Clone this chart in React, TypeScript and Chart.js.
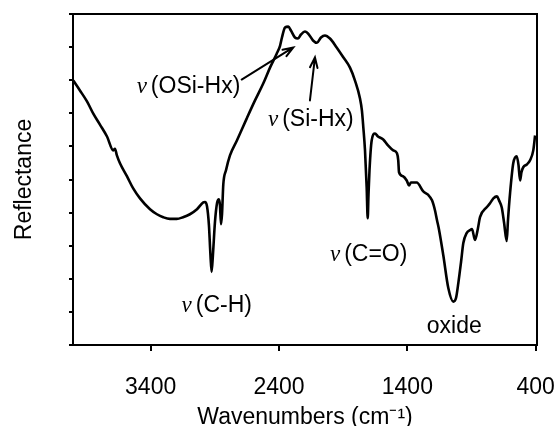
import React, { useEffect, useRef } from "react";
import { Chart, registerables } from "chart.js";

Chart.register(...registerables);

// Spectrum (wavenumber, reflectance in arbitrary units 0-10)
const wavenumbers = [
  4003, 3951, 3896, 3847, 3795, 3740, 3691, 3678, 3663, 3639, 3585, 3536, 3483, 3405, 3351, 3302,
  3250, 3197, 3148, 3094, 3039, 2990, 2977, 2961, 2946, 2934, 2925, 2915, 2899, 2883, 2868, 2860,
  2852, 2844, 2834, 2813, 2782, 2728, 2652, 2587, 2523, 2470, 2418, 2392, 2377, 2353, 2328, 2307,
  2276, 2252, 2229, 2198, 2167, 2135, 2104, 2073, 2042, 2003, 1951, 1902, 1847, 1808, 1769, 1754,
  1743, 1730, 1717, 1709, 1703, 1695, 1678, 1652, 1629, 1588, 1551, 1510, 1481, 1471, 1465, 1434,
  1405, 1387, 1372, 1327, 1276, 1239, 1208, 1185, 1169, 1154, 1120, 1081, 1042, 1021, 1003, 982,
  964, 938, 912, 896, 873, 850, 834, 782, 756, 730, 702, 686, 665, 647, 626, 616, 600, 575, 548,
  534, 522, 511, 497, 468, 444, 419, 405,
];
const reflectance = [
  7.99, 7.69, 7.36, 6.99, 6.66, 6.3, 5.88, 5.93, 5.73, 5.49, 5.1, 4.73, 4.43, 4.1, 3.95, 3.86,
  3.81, 3.81, 3.86, 3.95, 4.1, 4.31, 4.32, 4.19, 3.62, 2.71, 2.21, 2.71, 3.71, 4.28, 4.4, 4.22,
  3.65, 3.95, 4.85, 5.28, 5.73, 6.18, 6.84, 7.39, 7.9, 8.38, 8.8, 9.04, 9.29, 9.59, 9.62, 9.5,
  9.29, 9.26, 9.38, 9.47, 9.38, 9.2, 9.13, 9.29, 9.35, 9.26, 8.99, 8.71, 8.38, 7.99, 7.45, 7.08,
  6.57, 5.88, 4.76, 3.83, 4.52, 5.28, 6.18, 6.39, 6.3, 6.21, 6.03, 5.88, 5.79, 5.58, 5.22, 5.1,
  4.97, 4.82, 4.91, 4.91, 4.64, 4.54, 4.37, 4.07, 3.77, 3.5, 2.71, 1.72, 1.31, 1.42, 1.87, 2.5,
  3.08, 3.38, 3.47, 3.5, 3.17, 3.53, 3.86, 4.16, 4.28, 4.43, 4.49, 4.37, 4.16, 3.71, 3.14, 3.77,
  4.58, 5.49, 5.7, 5.43, 4.97, 5.22, 5.37, 5.46, 5.58, 5.88, 6.33,
];

const xTickValues = [3400, 2400, 1400, 400];
const yTickValues = [0, 1, 2, 3, 4, 5, 6, 7, 8, 9, 10];

// Peak annotations (text, left wavenumber, baseline value)
const labelTexts = ["(OSi-Hx)", "(Si-Hx)", "(C-H)", "(C=O)"];
const labelWn = [3509, 2486, 3159, 2003];
const labelVal = [7.6, 6.63, 1.0, 2.53];
const plainLabelTexts = ["oxide"];
const plainLabelWn = [1249];
const plainLabelVal = [0.35];

// Arrows (from -> to)
const arrowFromWn = [2691, 2159];
const arrowFromVal = [8.02, 7.39];
const arrowToWn = [2289, 2120];
const arrowToVal = [8.99, 8.69];

const SANS = '"Liberation Sans", Arial, Helvetica, sans-serif';
const SERIF = '"Liberation Serif", "Times New Roman", serif';

const framePlugin = {
  id: "frame",
  afterDatasetsDraw(chart: any) {
    const { ctx, chartArea, scales } = chart;
    const x = scales.x;
    const y = scales.y;
    ctx.save();
    ctx.strokeStyle = "#000";
    ctx.lineWidth = 2;
    ctx.strokeRect(chartArea.left, chartArea.top, chartArea.right - chartArea.left, chartArea.bottom - chartArea.top);

    ctx.fillStyle = "#000";
    ctx.textBaseline = "alphabetic";
    ctx.textAlign = "left";
    for (let i = 0; i < labelTexts.length; i++) {
      const px = x.getPixelForValue(labelWn[i]);
      const py = y.getPixelForValue(labelVal[i]);
      ctx.font = `italic 23px ${SERIF}`;
      ctx.fillText("\u03BD", px, py);
      const w = ctx.measureText("\u03BD").width;
      ctx.font = `23px ${SANS}`;
      ctx.fillText(labelTexts[i], px + w + 4, py);
    }
    for (let i = 0; i < plainLabelTexts.length; i++) {
      const px = x.getPixelForValue(plainLabelWn[i]);
      const py = y.getPixelForValue(plainLabelVal[i]);
      ctx.font = `23px ${SANS}`;
      ctx.fillText(plainLabelTexts[i], px, py);
    }
    ctx.lineWidth = 2;
    ctx.lineCap = "round";
    for (let i = 0; i < arrowFromWn.length; i++) {
      const x1 = x.getPixelForValue(arrowFromWn[i]);
      const y1 = y.getPixelForValue(arrowFromVal[i]);
      const x2 = x.getPixelForValue(arrowToWn[i]);
      const y2 = y.getPixelForValue(arrowToVal[i]);
      const ang = Math.atan2(y2 - y1, x2 - x1);
      const hl = 11;
      const ha = 0.35;
      ctx.beginPath();
      ctx.moveTo(x1, y1);
      ctx.lineTo(x2, y2);
      ctx.moveTo(x2 - hl * Math.cos(ang - ha), y2 - hl * Math.sin(ang - ha));
      ctx.lineTo(x2, y2);
      ctx.lineTo(x2 - hl * Math.cos(ang + ha), y2 - hl * Math.sin(ang + ha));
      ctx.stroke();
    }
    ctx.restore();
  },
};

export default function App() {
  const ref = useRef<HTMLCanvasElement | null>(null);
  useEffect(() => {
    if (!ref.current) return;
    const chart = new Chart(ref.current, {
      type: "line",
      data: {
        datasets: [
          {
            data: wavenumbers.map((w, i) => ({ x: w, y: reflectance[i] })),
            borderColor: "#000",
            borderWidth: 2.6,
            pointRadius: 0,
            cubicInterpolationMode: "monotone",
            fill: false,
          },
        ],
      },
      options: {
        animation: false,
        responsive: false,
        devicePixelRatio: 1,
        layout: { padding: { left: 0, right: 21, top: 14, bottom: 0 } },
        plugins: { legend: { display: false }, tooltip: { enabled: false } },
        scales: {
          x: {
            type: "linear",
            reverse: true,
            min: 390,
            max: 4005,
            afterBuildTicks: (s: any) => {
              s.ticks = xTickValues.map((v) => ({ value: v }));
            },
            afterFit: (s: any) => {
              s.height = 81;
              s.paddingLeft = 0;
              s.paddingRight = 0;
            },
            grid: { display: true, drawOnChartArea: false, drawTicks: true, tickLength: 6, lineWidth: 2, color: "#000" },
            border: { display: true, width: 2, color: "#000" },
            ticks: {
              color: "#000",
              font: { family: SANS, size: 23, lineHeight: 1.2 },
              padding: 23,
              maxRotation: 0,
              autoSkip: false,
              callback: (v: any) => String(v),
            },
            title: {
              display: true,
              text: "Wavenumbers (cm\u207B\u00B9)",
              color: "#000",
              font: { family: SANS, size: 23, lineHeight: 1 },
              padding: { top: 0, bottom: -3 },
            },
          },
          y: {
            type: "linear",
            min: 0,
            max: 10,
            afterBuildTicks: (s: any) => {
              s.ticks = yTickValues.map((v) => ({ value: v }));
            },
            afterFit: (s: any) => {
              s.width = 73;
              s.paddingTop = 0;
              s.paddingBottom = 0;
            },
            grid: { display: true, drawOnChartArea: false, drawTicks: true, tickLength: 4, lineWidth: 2, color: "#000" },
            border: { display: true, width: 2, color: "#000" },
            ticks: { display: false },
            title: {
              display: true,
              text: "Reflectance",
              color: "#000",
              font: { family: SANS, size: 23, lineHeight: 1 },
              padding: { top: 13, bottom: 0 },
            },
          },
        },
      },
      plugins: [framePlugin],
    });
    return () => chart.destroy();
  }, []);
  return (
    <div style={{ position: "absolute", left: 0, top: 0, width: 558, height: 426, background: "#fff" }}>
      <canvas ref={ref} width={558} height={426} style={{ display: "block" }} />
    </div>
  );
}
